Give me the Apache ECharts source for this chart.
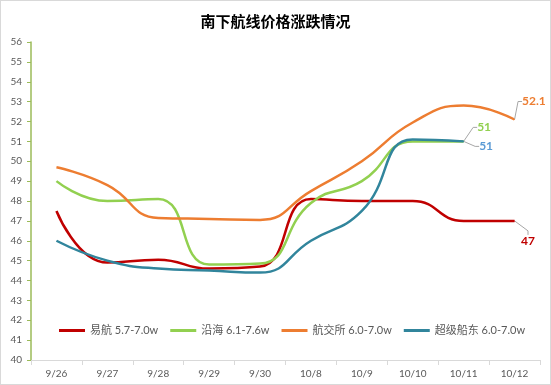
<!DOCTYPE html>
<html>
<head>
<meta charset="utf-8">
<script src="https://cdn.jsdelivr.net/npm/echarts@6/dist/echarts.min.js"></script>
<style>
html,body{margin:0;padding:0;background:#fff;}
#wrap{width:551px;height:385px;box-sizing:border-box;border:1px solid #d9d9d9;position:relative;}
#c{position:absolute;left:-1px;top:-1px;width:551px;height:385px;}
</style>
</head>
<body>
<div id="wrap"><div id="c"></div></div>
<script>
const categories = ['9/26','9/27','9/28','9/29','9/30','10/8','10/9','10/10','10/11','10/12'];
const seriesNames = ['易航 5.7-7.0w','沿海 6.1-7.6w','航交所 6.0-7.0w','超级船东 6.0-7.0w'];
const yihang = [47.5, 44.9, 45.05, 44.6, 44.7, 48.1, 48.0, 48.0, 47.0, 47];
const yanhai = [49.0, 48.0, 48.1, 44.8, 44.85, 47.9, 49.0, 51.0, 51, null];
const hangjiaosuo = [49.7, 48.8, 47.15, 47.1, 47.05, 48.5, 50.0, 51.95, 52.8, 52.1];
const chaoji = [46.0, 45.0, 44.6, 44.5, 44.4, 46.0, 47.5, 51.1, 51, null];
const yTicks = [40,41,42,43,44,45,46,47,48,49,50,51,52,53,54,55,56];

const lineColors = ['#c00000','#92d050','#ed7d31','#31859c'];
const labelColors = ['#c00000','#92d050','#ed7d31','#5b9bd5'];
const labelIdx = [9, 8, 9, 8];
const labelShift = [[4, 20], [11, -14], [5, -18], [13, 5]];
const fontF = 'Lato, "Noto Sans CJK SC", sans-serif';

function withEndLabel(arr, si) {
  return arr.map((v, i) => {
    if (i !== labelIdx[si]) return {value: v, symbol: 'none'};
    return {
      value: v,
      symbol: 'circle', symbolSize: 1,
      label: {show: true, position: 'right', distance: 2, color: labelColors[si], fontWeight: 'bold', fontSize: 12, fontFamily: fontF, formatter: '{c}'},
      labelLine: {show: true, lineStyle: {color: '#a6a6a6', width: 1}}
    };
  });
}

const chart = echarts.init(document.getElementById('c'));
const sources = [yihang, yanhai, hangjiaosuo, chaoji];
chart.setOption({
  animation: false,
  title: {
    text: '南下航线价格涨跌情况', left: 'center', top: 9,
    textStyle: {fontSize: 15, fontWeight: 'bold', color: '#000', fontFamily: '"Noto Sans CJK SC", sans-serif'}
  },
  legend: {
    data: seriesNames, left: 54, top: 320, icon: 'rect', itemWidth: 26, itemHeight: 3, itemGap: 12,
    textStyle: {color: '#595959', fontSize: 11, fontFamily: fontF}
  },
  grid: {left: 31, right: 11, top: 42, bottom: 25, containLabel: false},
  xAxis: {
    type: 'category', data: categories, boundaryGap: true,
    axisLine: {lineStyle: {color: '#d9d9d9', width: 1}},
    axisTick: {show: true, alignWithLabel: false, length: 5, lineStyle: {color: '#d9d9d9'}},
    axisLabel: {color: '#595959', fontSize: 10, fontFamily: fontF, margin: 9}
  },
  yAxis: {
    type: 'value', min: 40, max: 56, interval: 1,
    axisLine: {show: true, lineStyle: {color: '#9bbb59', width: 1.5}},
    axisTick: {show: true, length: 4, lineStyle: {color: '#9bbb59'}},
    splitLine: {show: false},
    axisLabel: {color: '#595959', fontSize: 10, fontFamily: fontF, margin: 9, formatter: v => yTicks.includes(v) ? String(v) : ''}
  },
  series: seriesNames.map((n, i) => ({
    name: n, type: 'line', data: withEndLabel(sources[i], i), smooth: 0.5, showSymbol: true, symbol: 'none',
    lineStyle: {color: lineColors[i], width: 2.5}, itemStyle: {color: lineColors[i]},
    labelLayout: function () { return {dx: labelShift[i][0], dy: labelShift[i][1], hideOverlap: false, moveOverlap: null}; },
    labelLine: {show: true, length2: 4, lineStyle: {color: '#a6a6a6', width: 1}},
    z: i === 3 ? 5 : 2
  }))
});
</script>
</body>
</html>
